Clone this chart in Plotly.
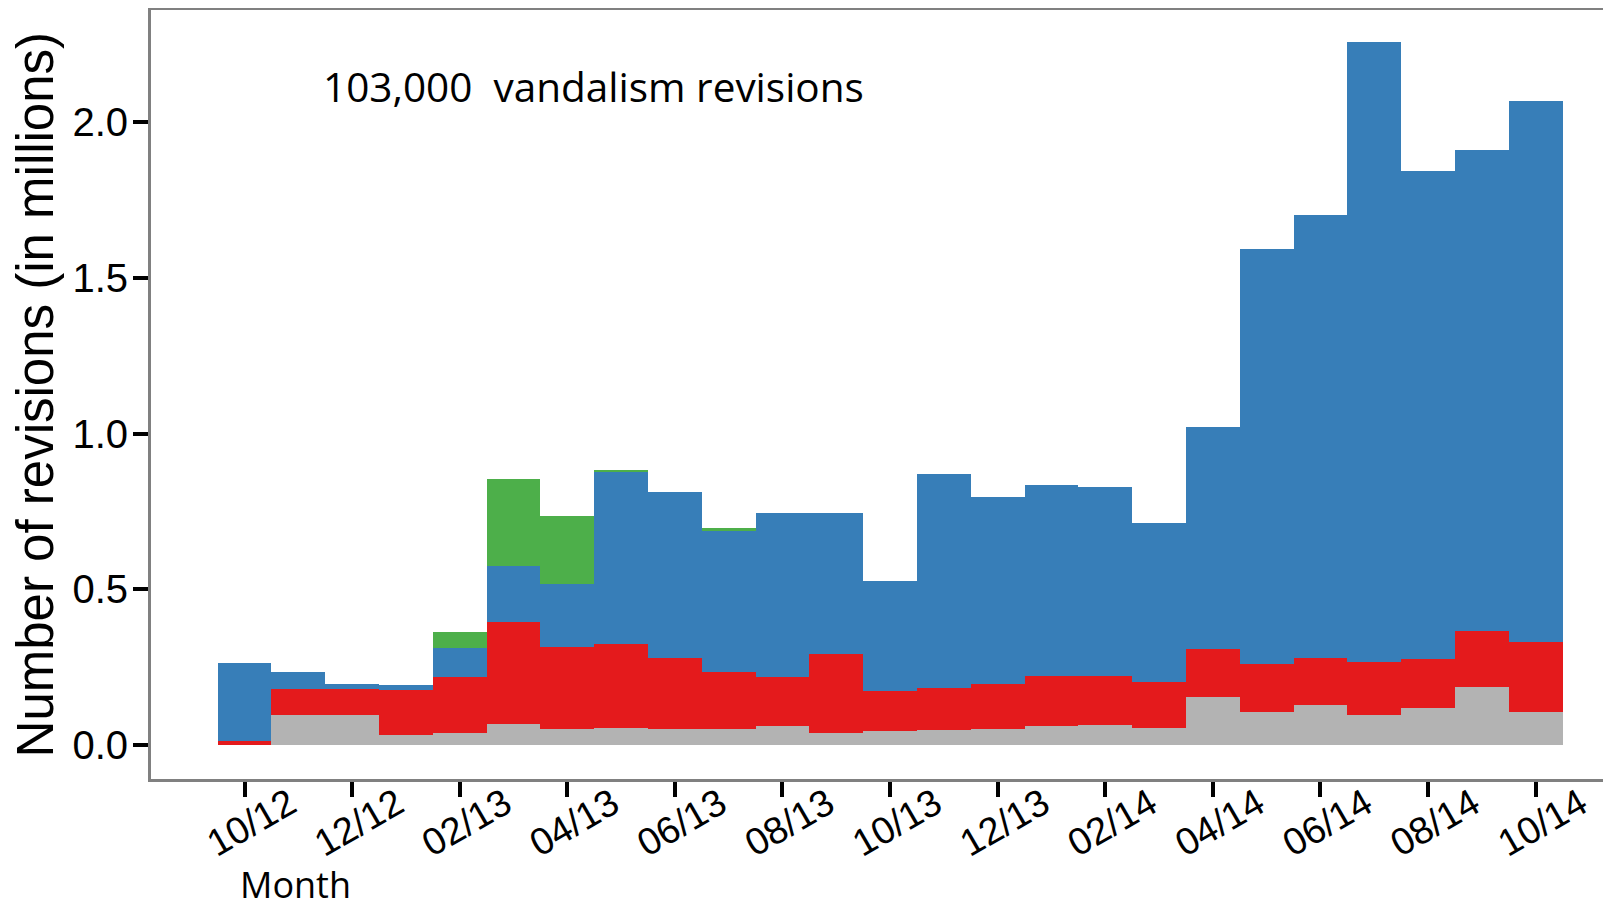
import plotly.graph_objects as go

# months shown on the x axis (one bar per month, 10/12 .. 10/14)
months = ["10/12", "11/12", "12/12", "01/13", "02/13", "03/13", "04/13", "05/13",
          "06/13", "07/13", "08/13", "09/13", "10/13", "11/13", "12/13", "01/14",
          "02/14", "03/14", "04/14", "05/14", "06/14", "07/14", "08/14", "09/14", "10/14"]

# stacked segments, in millions of revisions (bottom to top)
gray = [0.000, 0.096, 0.096, 0.031, 0.037, 0.066, 0.051, 0.056, 0.052, 0.052, 0.061, 0.040,
        0.045, 0.047, 0.052, 0.061, 0.065, 0.056, 0.153, 0.106, 0.130, 0.097, 0.119, 0.186, 0.106]
red = [0.013, 0.083, 0.083, 0.146, 0.182, 0.330, 0.264, 0.268, 0.228, 0.181, 0.158, 0.252,
       0.128, 0.135, 0.145, 0.159, 0.155, 0.145, 0.156, 0.155, 0.149, 0.171, 0.158, 0.181, 0.225]
blue = [0.251, 0.056, 0.017, 0.015, 0.091, 0.179, 0.202, 0.553, 0.533, 0.457, 0.525, 0.452,
        0.355, 0.688, 0.598, 0.616, 0.609, 0.512, 0.713, 1.331, 1.421, 1.989, 1.565, 1.542, 1.738]
green = [0, 0, 0, 0, 0.052, 0.279, 0.218, 0.006, 0, 0.006, 0, 0,
         0, 0, 0, 0, 0, 0, 0, 0, 0, 0, 0, 0, 0]

tick_labels = months[::2]

x = list(range(len(months)))

fig = go.Figure()
for vals, col, name in [(gray, "#b3b3b3", "gray"), (red, "#e41a1c", "red"),
                        (blue, "#377eb8", "blue"), (green, "#4daf4a", "green")]:
    fig.add_trace(go.Bar(x=x, y=vals, width=1, name=name, marker_color=col,
                         marker_line_width=0, customdata=months,
                         hovertemplate="%{customdata}: %{y:.3f}M<extra></extra>"))

# page body has an 8px margin, so the figure is 8px smaller than the window
fig.update_layout(
    width=1603, height=900,
    barmode="stack", bargap=0,
    showlegend=False,
    plot_bgcolor="white", paper_bgcolor="white",
    margin=dict(l=143, r=0, t=2, b=129),
    font=dict(family="Liberation Sans, Arial, sans-serif", color="black"),
)

fig.update_xaxes(
    range=[-1.738, 25.4], automargin=False,
    tickmode="array", tickvals=x[::2], ticktext=tick_labels,
    tickangle=-30, tickfont=dict(size=38),
    ticks="outside", ticklen=15, tickwidth=3.5, tickcolor="black",
    ticklabelshift=45, ticklabelstandoff=-30,
    showline=True, linecolor="#808080", linewidth=3, mirror=True,
    showgrid=False, zeroline=False,
)
fig.update_yaxes(
    range=[-0.1091, 2.3596], automargin=False,
    tickvals=[0, 0.5, 1.0, 1.5, 2.0], ticktext=["0.0", "0.5", "1.0", "1.5", "2.0"],
    tickfont=dict(size=40),
    ticks="outside", ticklen=15, tickwidth=3.5, tickcolor="black",
    ticklabelstandoff=-3,
    showline=True, linecolor="#808080", linewidth=3,
    showgrid=False, zeroline=False,
)

fig.add_annotation(text="Number of revisions (in millions)", textangle=-90,
                   xref="paper", yref="paper", x=-0.0788, y=0.5,
                   xanchor="center", yanchor="middle", showarrow=False,
                   font=dict(size=51, family="Liberation Sans, Arial, sans-serif"))
fig.add_annotation(text="103,000\u00a0 vandalism revisions",
                   xref="paper", yref="paper", x=0.1164, y=0.901,
                   xanchor="left", yanchor="middle", showarrow=False,
                   font=dict(size=40.5, family="Open Sans, sans-serif"))
fig.add_annotation(text="Month",
                   xref="paper", yref="paper", x=0.0993, y=-0.1378,
                   xanchor="center", yanchor="middle", showarrow=False,
                   font=dict(size=36, family="Open Sans, sans-serif"))

fig.write_html("out.html")
